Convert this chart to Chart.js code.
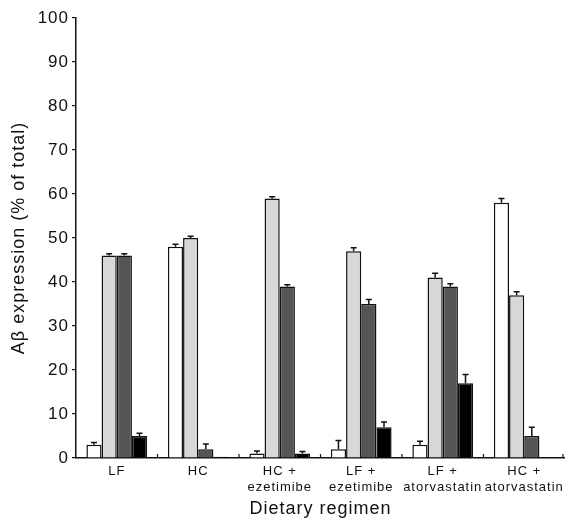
<!DOCTYPE html>
<html>
<head>
<meta charset="utf-8">
<title>Abeta expression by dietary regimen</title>
<script src="https://cdn.jsdelivr.net/npm/chart.js"></script>
<style>
  html, body { margin: 0; padding: 0; background: #fff; }
  #wrap { width: 570px; height: 527px; }
</style>
</head>
<body>
<div id="wrap"><canvas id="chart"></canvas></div>
<script>
// Categories (dietary regimen), multi-line labels
const categories = [
  ['LF'],
  ['HC'],
  ['HC +', 'ezetimibe'],
  ['LF +', 'ezetimibe'],
  ['LF +', 'atorvastatin'],
  ['HC +', 'atorvastatin']
];

// Bar values, % of total
const whiteVals = [3, 48, 1, 2, 3, 58];
const lightVals = [46, 50, 59, 47, 41, 37];
const darkVals  = [46, 2, 39, 35, 39, 5];
const blackVals = [5, 0.3, 1, 7, 17, 0];

// Upper error bars
const whiteErr = [0.5, 0.6, 0.6, 2, 0.8, 1];
const lightErr = [0.4, 0.4, 0.4, 0.8, 1, 0.8];
const darkErr  = [0.4, 1.2, 0.4, 1, 0.6, 2];
const blackErr = [0.6, 0, 0.5, 1.2, 2, 0];

const yTicks = [0, 10, 20, 30, 40, 50, 60, 70, 80, 90, 100];

const ink = '#111111';

function series(label, data, err, color) {
  return {
    label: label,
    data: data,
    errors: err,
    backgroundColor: color,
    borderColor: ink,
    borderWidth: 1.5,
    borderSkipped: 'bottom',
    barPercentage: 1.0,
    categoryPercentage: 0.745
  };
}

const spacing = {
  id: 'spacing',
  beforeLayout(chart) { chart.ctx.letterSpacing = '1px'; },
  beforeDraw(chart) { chart.ctx.letterSpacing = '1px'; }
};

// error bar caps drawn from the dataset values through the y scale
const errorBars = {
  id: 'errorBars',
  afterDatasetsDraw(chart) {
    const ctx = chart.ctx;
    const y = chart.scales.y;
    ctx.save();
    ctx.strokeStyle = ink;
    ctx.lineWidth = 1.5;
    chart.data.datasets.forEach((ds, i) => {
      const meta = chart.getDatasetMeta(i);
      meta.data.forEach((bar, j) => {
        const e = ds.errors[j];
        if (!e) return;
        const top = y.getPixelForValue(ds.data[j] + e);
        ctx.beginPath();
        ctx.moveTo(bar.x, bar.y);
        ctx.lineTo(bar.x, top);
        ctx.moveTo(bar.x - 3, top);
        ctx.lineTo(bar.x + 3, top);
        ctx.stroke();
      });
    });
    ctx.restore();
  }
};

// short inward ticks on the x axis between categories
const xTicksIn = {
  id: 'xTicksIn',
  afterDraw(chart) {
    const ctx = chart.ctx;
    const x = chart.scales.x;
    const bottom = chart.chartArea.bottom;
    ctx.save();
    ctx.strokeStyle = ink;
    ctx.lineWidth = 1.2;
    for (let i = 1; i <= categories.length; i++) {
      const px = (x.getPixelForValue(i - 1) + x.getPixelForValue(i)) / 2;
      const xx = i === categories.length ? x.right - 2 : px;
      ctx.beginPath();
      ctx.moveTo(xx, bottom);
      ctx.lineTo(xx, bottom - 4);
      ctx.stroke();
    }
    ctx.restore();
  }
};

Chart.defaults.font.family = '"Liberation Sans", Arial, Helvetica, sans-serif';
Chart.defaults.color = ink;

new Chart(document.getElementById('chart'), {
  type: 'bar',
  data: {
    labels: categories,
    datasets: [
      series('White', whiteVals, whiteErr, '#ffffff'),
      series('Light grey', lightVals, lightErr, '#d8d8d8'),
      series('Dark grey', darkVals, darkErr, '#555555'),
      series('Black', blackVals, blackErr, '#000000')
    ]
  },
  options: {
    responsive: true,
    maintainAspectRatio: false,
    animation: false,
    layout: { padding: { top: 18, right: 2, left: 4, bottom: 7 } },
    plugins: {
      legend: { display: false },
      tooltip: { enabled: false }
    },
    scales: {
      x: {
        offset: true,
        afterFit(scale) { scale.height = 527 - 458 - 7; },
        grid: { display: false, drawTicks: false },
        border: { display: true, color: ink, width: 1.5 },
        ticks: { font: { size: 13 }, padding: 6, maxRotation: 0, autoSkip: false },
        title: {
          display: true,
          text: 'Dietary regimen',
          font: { size: 18 },
          padding: { top: 4, bottom: 0 }
        }
      },
      y: {
        min: 0,
        max: 100,
        afterFit(scale) { scale.width = 76 - 4; },
        afterBuildTicks(scale) { scale.ticks = yTicks.map(v => ({ value: v })); },
        grid: { display: true, drawOnChartArea: false, drawTicks: true, tickLength: 4, color: ink, lineWidth: 1.2 },
        border: { display: true, color: ink, width: 1.5 },
        ticks: { font: { size: 17 }, padding: 3 },
        title: {
          display: true,
          text: 'A\u03b2 expression (% of total)',
          font: { size: 18 },
          padding: { top: 4, bottom: 4 }
        }
      }
    }
  },
  plugins: [spacing, errorBars, xTicksIn]
});
</script>
</body>
</html>
